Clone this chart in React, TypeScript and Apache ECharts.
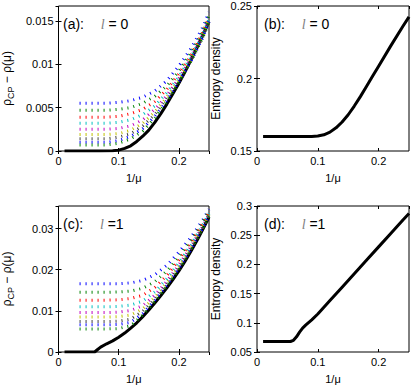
import React, { useEffect, useRef } from "react";
import * as echarts from "echarts";

// ---------- data ----------
const dottedX = [0.035, 0.06, 0.08, 0.1, 0.12, 0.14, 0.16, 0.18, 0.2, 0.22, 0.24, 0.25];
const curveColors = ["#0000ff", "#008000", "#ff0000", "#00bfbf", "#bf00bf", "#bfbf00", "#404040", "#0000ff", "#008000"];

// panel (a): l = 0
const blackAX = [0.01, 0.04, 0.07, 0.09, 0.1, 0.11, 0.12, 0.13, 0.14, 0.15, 0.16, 0.17, 0.18, 0.19, 0.2, 0.21, 0.22, 0.23, 0.24, 0.25];
const blackAY = [0, 0, 0, 0.00003, 0.0001, 0.0003, 0.0006, 0.0011, 0.0017, 0.0024, 0.0033, 0.0043, 0.0054, 0.0066, 0.0078, 0.0091, 0.0105, 0.0119, 0.0134, 0.0149];
const dottedA = [
  [0.0055, 0.0055, 0.0055, 0.0056, 0.0058, 0.0062, 0.0069, 0.0081, 0.0098, 0.0118, 0.0143, 0.016],
  [0.0047, 0.0047, 0.0047, 0.0048, 0.005, 0.0055, 0.0063, 0.0075, 0.0092, 0.0113, 0.0139, 0.0156],
  [0.0039, 0.0039, 0.0039, 0.004, 0.0043, 0.0048, 0.0057, 0.0071, 0.0089, 0.011, 0.0137, 0.0154],
  [0.0032, 0.0032, 0.0032, 0.0033, 0.0036, 0.0042, 0.0052, 0.0067, 0.0086, 0.0108, 0.0135, 0.0152],
  [0.0025, 0.0025, 0.0025, 0.0026, 0.0029, 0.0036, 0.0048, 0.0064, 0.0084, 0.0107, 0.0134, 0.0151],
  [0.0019, 0.0019, 0.0019, 0.002, 0.0024, 0.0032, 0.0045, 0.0062, 0.0082, 0.0105, 0.0133, 0.015],
  [0.0014, 0.0014, 0.0014, 0.0016, 0.002, 0.0029, 0.0042, 0.006, 0.0081, 0.0104, 0.0132, 0.015],
  [0.001, 0.001, 0.001, 0.0012, 0.0017, 0.0026, 0.004, 0.0058, 0.008, 0.0103, 0.0131, 0.0149],
  [0.0007, 0.0007, 0.0007, 0.0009, 0.0014, 0.0023, 0.0038, 0.0057, 0.0079, 0.0103, 0.0131, 0.0149],
];

// panel (b): entropy density, l = 0
const blackBX = [0.01, 0.05, 0.09, 0.1, 0.11, 0.12, 0.13, 0.14, 0.15, 0.16, 0.17, 0.18, 0.19, 0.2, 0.22, 0.24, 0.25];
const blackBY = [0.16, 0.16, 0.16, 0.1603, 0.1612, 0.163, 0.166, 0.17, 0.175, 0.181, 0.1875, 0.1945, 0.2015, 0.2085, 0.2225, 0.236, 0.2425];

// panel (c): l = 1
const blackCX = [0.01, 0.04, 0.06, 0.065, 0.07, 0.08, 0.09, 0.1, 0.11, 0.12, 0.13, 0.14, 0.15, 0.16, 0.17, 0.18, 0.19, 0.2, 0.21, 0.22, 0.23, 0.24, 0.25];
const blackCY = [0, 0, 0, 0.0006, 0.0012, 0.002, 0.0027, 0.0036, 0.0046, 0.0058, 0.0071, 0.0086, 0.0102, 0.0119, 0.0137, 0.0156, 0.0176, 0.0197, 0.022, 0.0245, 0.0271, 0.0299, 0.0328];
const dottedC = [
  [0.0166, 0.0166, 0.0166, 0.0166, 0.0168, 0.0174, 0.0188, 0.0211, 0.0243, 0.0279, 0.0322, 0.0347],
  [0.0145, 0.0145, 0.0145, 0.0146, 0.0148, 0.0155, 0.0171, 0.0197, 0.0232, 0.0271, 0.0317, 0.0343],
  [0.0126, 0.0126, 0.0126, 0.0127, 0.013, 0.0138, 0.0157, 0.0186, 0.0224, 0.0265, 0.0313, 0.034],
  [0.011, 0.011, 0.011, 0.0111, 0.0114, 0.0124, 0.0146, 0.0178, 0.0217, 0.026, 0.031, 0.0337],
  [0.0096, 0.0096, 0.0096, 0.0097, 0.0101, 0.0113, 0.0138, 0.0172, 0.0212, 0.0256, 0.0307, 0.0335],
  [0.0085, 0.0085, 0.0085, 0.0086, 0.009, 0.0105, 0.0133, 0.0168, 0.0208, 0.0253, 0.0305, 0.0333],
  [0.0074, 0.0074, 0.0074, 0.0075, 0.008, 0.0099, 0.0129, 0.0165, 0.0205, 0.0251, 0.0303, 0.0332],
  [0.0066, 0.0066, 0.0066, 0.0067, 0.0072, 0.0094, 0.0126, 0.0162, 0.0203, 0.0249, 0.0302, 0.0331],
  [0.0056, 0.0056, 0.0056, 0.0057, 0.0064, 0.009, 0.0123, 0.016, 0.0201, 0.0248, 0.0301, 0.033],
];

// panel (d): entropy density, l = 1
const blackDX = [0.01, 0.05, 0.055, 0.06, 0.065, 0.07, 0.075, 0.08, 0.09, 0.1, 0.12, 0.14, 0.16, 0.18, 0.2, 0.22, 0.24, 0.25];
const blackDY = [0.068, 0.068, 0.068, 0.07, 0.076, 0.084, 0.091, 0.096, 0.105, 0.115, 0.138, 0.161, 0.184, 0.207, 0.23, 0.253, 0.276, 0.287];

// axes
const xTicks = [0, 0.25, 0.1];
const yRanges = [
  [0, 0.0167, 0.005],
  [0.15, 0.25, 0.05],
  [0, 0.0355, 0.01],
  [0.05, 0.3, 0.05],
];
const panelLabels = ["(a):", "(b):", "(c):", "(d):"];
const panelSuffix = [" = 0", " = 0", " =1", " =1"];

const FONT = "Liberation Sans, Arial, Helvetica, sans-serif";

const pair = (xs: number[], ys: number[]) => xs.map((x, i) => [x, ys[i]]);

export default function App() {
  const ref = useRef<HTMLDivElement>(null);
  useEffect(() => {
    const chart = echarts.init(ref.current!, null, { renderer: "svg" });
    const grids = [
      { left: 58, top: 6, width: 151, height: 145 },
      { left: 257, top: 6, width: 152, height: 145 },
      { left: 58, top: 206, width: 151, height: 146 },
      { left: 257, top: 206, width: 152, height: 146 },
    ];
    const fmt = (v: number) => String(+v.toFixed(4));
    const xAxes: any[] = [];
    const yAxes: any[] = [];
    for (let i = 0; i < 4; i++) {
      xAxes.push({
        type: "value", gridIndex: i, min: xTicks[0], max: xTicks[1], interval: xTicks[2],
        position: "bottom",
        axisLine: { show: false },
        axisTick: { show: true, inside: true, length: 3, lineStyle: { color: "#000" } },
        axisLabel: { color: "#000", fontSize: 11, fontFamily: FONT, margin: 4, formatter: fmt, showMaxLabel: false },
        splitLine: { show: false },
        name: "1/μ", nameLocation: "middle", nameGap: 21,
        nameTextStyle: { color: "#000", fontSize: 11, fontFamily: FONT },
      });
    }
    for (let i = 0; i < 4; i++) {
      xAxes.push({
        type: "value", gridIndex: i, min: xTicks[0], max: xTicks[1], interval: xTicks[2],
        position: "top",
        axisLine: { show: false },
        axisTick: { show: true, inside: true, length: 3, lineStyle: { color: "#000" } },
        axisLabel: { show: false },
        splitLine: { show: false },
      });
    }
    for (let i = 0; i < 4; i++) {
      const [mn, mx, iv] = yRanges[i];
      const entropy = i === 1 || i === 3;
      const tight = !entropy;
      yAxes.push({
        type: "value", gridIndex: i, min: mn, max: mx, interval: iv,
        position: "left",
        axisLine: { show: false },
        axisTick: { show: true, inside: true, length: 3, lineStyle: { color: "#000" } },
        axisLabel: { color: "#000", fontSize: 11, fontFamily: FONT, margin: 5, formatter: fmt, showMaxLabel: !tight },
        splitLine: { show: false },
        name: entropy ? "Entropy density" : "{r|ρ}{s|CP}{r| − ρ(μ)}",
        nameLocation: "middle",
        nameGap: entropy ? 35.5 : 43,
        nameTextStyle: {
          color: "#000", fontSize: 12, fontFamily: FONT,
          rich: {
            r: { fontSize: 12, fontFamily: FONT, color: "#000" },
            s: { fontSize: 9, fontFamily: FONT, color: "#000", padding: [8, 0, 0, 0] },
          },
        },
      });
    }
    for (let i = 0; i < 4; i++) {
      const [mn, mx, iv] = yRanges[i];
      yAxes.push({
        type: "value", gridIndex: i, min: mn, max: mx, interval: iv,
        position: "right",
        axisLine: { show: false },
        axisTick: { show: true, inside: true, length: 3, lineStyle: { color: "#000" } },
        axisLabel: { show: false },
        splitLine: { show: false },
      });
    }

    const series: any[] = [];
    const black = (xs: number[], ys: number[], idx: number) => ({
      type: "line", xAxisIndex: idx, yAxisIndex: idx, data: pair(xs, ys),
      showSymbol: false, symbol: "none", smooth: false,
      lineStyle: { color: "#000", width: 3, join: "round" }, z: 2,
    });
    series.push(black(blackAX, blackAY, 0));
    series.push(black(blackBX, blackBY, 1));
    series.push(black(blackCX, blackCY, 2));
    series.push(black(blackDX, blackDY, 3));
    const dotted = (ys: number[], idx: number, k: number) => ({
      type: "line", xAxisIndex: idx, yAxisIndex: idx, data: pair(dottedX, ys),
      showSymbol: false, symbol: "none", smooth: false,
      lineStyle: { color: curveColors[k], width: 3, type: [1, 5], cap: "butt" }, z: 3,
    });
    dottedA.forEach((ys, k) => series.push(dotted(ys, 0, k)));
    dottedC.forEach((ys, k) => series.push(dotted(ys, 2, k)));

    const labelPos = [
      [63, 17],
      [264, 17],
      [63, 217],
      [264, 217],
    ];
    const graphic = labelPos.map((p, i) => ({
      type: "text",
      x: p[0],
      y: p[1],
      style: {
        text: `{p|${panelLabels[i]}}     {l|l}{p|${panelSuffix[i]}}`,
        rich: {
          p: { fontSize: 14, fontFamily: FONT, fill: "#000", color: "#000" },
          l: { fontSize: 14, fontFamily: "Liberation Serif, DejaVu Serif, serif", fontStyle: "italic", fill: "#808080", color: "#808080" },
        },
      },
      z: 10,
    }));

    chart.setOption({
      animation: false,
      backgroundColor: "#fff",
      textStyle: { fontFamily: FONT },
      grid: grids.map((g) => ({ ...g, show: true, borderColor: "#000", borderWidth: 1, backgroundColor: "transparent" })),
      xAxis: xAxes,
      yAxis: yAxes,
      series,
      graphic,
    });
    return () => chart.dispose();
  }, []);
  return <div ref={ref} style={{ position: "fixed", left: 0, top: 0, width: 415, height: 390 }} />;
}
